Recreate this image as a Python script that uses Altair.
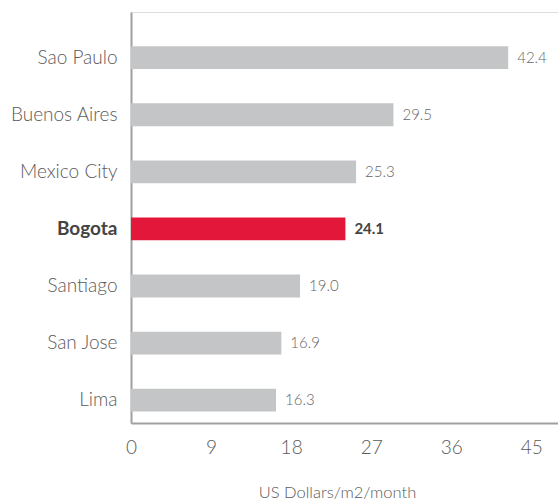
import altair as alt
import pandas as pd

cities = ["Sao Paulo", "Buenos Aires", "Mexico City", "Bogota", "Santiago", "San Jose", "Lima"]
values = [42.4, 29.5, 25.3, 24.1, 19.0, 16.9, 16.3]
highlight = [False, False, False, True, False, False, False]
x_ticks = [0, 9, 18, 27, 36, 45]
labels = [f"{v:.1f}" for v in values]

df = pd.DataFrame({"city": cities, "value": values, "hl": highlight, "label": labels})

FONT = "Lato"

y_enc = alt.Y(
    "city:N",
    sort=cities,
    scale=alt.Scale(paddingInner=0.6, paddingOuter=0.4, align=0.75),
    axis=alt.Axis(
        title=None,
        ticks=False,
        labelPadding=14,
        labelFontSize=19,
        labelFont=FONT,
        labelColor=alt.ExprRef("datum.value == 'Bogota' ? '#444444' : '#5a5a5a'"),
        domainColor="#a0a0a0",
        domainWidth=2,
        labelFontWeight=alt.ExprRef("datum.value == 'Bogota' ? 'bold' : 300"),
    ),
)

x_enc = alt.X(
    "value:Q",
    scale=alt.Scale(domain=[0, 48], nice=False, zero=True),
    axis=alt.Axis(
        values=x_ticks,
        title="US Dollars/m2/month",
        titleFont=FONT,
        titleFontSize=16.5,
        titleFontWeight=300,
        titleColor="#5a5a5a",
        titlePadding=27,
        titleX=206,
        ticks=False,
        grid=False,
        labelFont=FONT,
        labelFontSize=19,
        labelFontWeight=300,
        labelColor="#5a5a5a",
        labelPadding=15,
        domainColor="#a0a0a0",
        domainWidth=2,
        labelFlush=False,
    ),
)

bars = alt.Chart(df).mark_bar().encode(
    x=x_enc,
    y=y_enc,
    color=alt.condition("datum.hl", alt.value("#e3173a"), alt.value("#c4c5c7")),
)

text_norm = alt.Chart(df).transform_filter("!datum.hl").mark_text(
    align="left", dx=9, font=FONT, fontSize=15, fontWeight=300, color="#666666"
).encode(
    x="value:Q",
    y=alt.Y("city:N", sort=cities),
    text="label:N",
)

text_hl = alt.Chart(df).transform_filter("datum.hl").mark_text(
    align="left", dx=9, font=FONT, fontSize=15, fontWeight="bold", color="#444444"
).encode(
    x="value:Q",
    y=alt.Y("city:N", sort=cities),
    text="label:N",
)

chart = (
    alt.layer(bars, text_norm, text_hl)
    .properties(
        width=427,
        height=411,
        autosize=alt.AutoSizeParams(type="none"),
        padding={"left": 131, "top": 12, "right": 0, "bottom": 78},
    )
    .configure_view(stroke=None)
    .configure(background="white")
)

chart.save("out.html", embed_options={"renderer": "svg", "actions": False})
